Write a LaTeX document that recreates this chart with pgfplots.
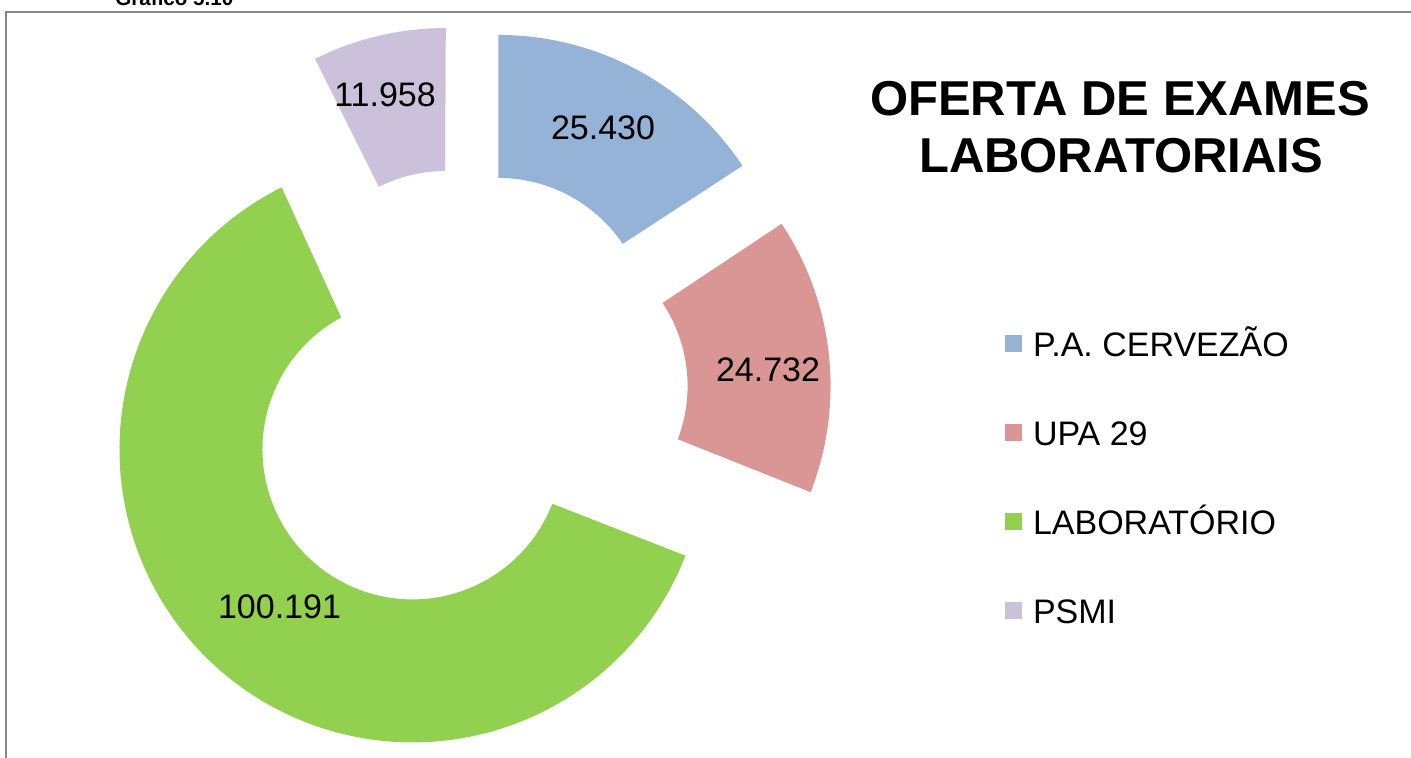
\documentclass[border=0pt]{standalone}
\usepackage{pgfplots}
\pgfplotsset{compat=1.18}
\usepackage{xfp}
\usepackage{fontspec}
\setmainfont{Liberation Sans}

\definecolor{cA}{RGB}{149,179,215}
\definecolor{cB}{RGB}{217,150,148}
\definecolor{cC}{RGB}{146,208,80}
\definecolor{cD}{RGB}{204,193,218}
\definecolor{frame}{RGB}{134,134,134}

% data: exames por unidade
\def\vA{25430}  % P.A. CERVEZAO
\def\vB{24732}  % UPA 29
\def\vC{100191} % LABORATORIO
\def\vD{11958}  % PSMI

\newcommand\seg[3]{% colour, start angle, end angle
  \edef\mm{\fpeval{round((#2+#3)/2,4)}}%
  \edef\cx{\fpeval{round(463+75*cosd(\mm),3)}}%
  \edef\cy{\fpeval{round(394-75*sind(\mm),3)}}%
  \edef\sspan{\fpeval{round((#3)-(#2),4)}}%
  \edef\doit{\noexpand\addplot[fill=#1, draw=none, domain=0:2, samples=241]
    ({\cx+(x<=1?293:150)*cos(#2+(x<=1?x:2-x)*(\sspan))},
     {\cy-(x<=1?293:150)*sin(#2+(x<=1?x:2-x)*(\sspan))});}%
  \doit
}

\begin{document}
\begin{tikzpicture}
\edef\tot{\fpeval{\vA+\vB+\vC+\vD}}
\edef\aA{90}
\edef\aB{\fpeval{round(90-360*\vA/\tot,4)}}
\edef\aC{\fpeval{round(\aB-360*\vB/\tot,4)}}
\edef\aD{\fpeval{round(\aC-360*\vC/\tot,4)}}
\edef\aE{\fpeval{round(\aD-360*\vD/\tot,4)}}
\begin{axis}[
  name=ax,
  width=705.5pt, height=378.5pt, scale only axis, hide axis,
  xmin=0, xmax=1411, ymin=0, ymax=757, y dir=reverse, clip=false,
  legend style={at={(axis cs:1005,331)}, anchor=north west, draw=none, fill=none,
    inner sep=0pt, outer sep=0pt, row sep=32pt,
    font=\fontsize{17}{20}\selectfont,
    nodes={inner sep=0pt, text height=12.5pt, text depth=0pt},
    /tikz/every odd column/.style={column sep=5.5pt}},
  legend cell align=left,
  legend image code/.code={\fill[#1] (0pt,-4.25pt) rectangle (8.5pt,4.25pt);},
]
\seg{cA}{\aA}{\aB}
\seg{cB}{\aB}{\aC}
\seg{cC}{\aC}{\aD}
\seg{cD}{\aD}{\aE}
\legend{P.A. CERVEZÃO, UPA 29, LABORATÓRIO, PSMI}

\begin{scope}[font=\fontsize{17}{20}\selectfont]
\node at (axis cs:603,128) {25.430};
\node at (axis cs:768,370) {24.732};
\node at (axis cs:279.5,606.5) {100.191};
\node at (axis cs:385,95) {11.958};
\end{scope}

\node[anchor=base, font=\bfseries\fontsize{24.5}{28.5}\selectfont] at (axis cs:1120,115) {OFERTA DE EXAMES};
\node[anchor=base, font=\bfseries\fontsize{24.5}{28.5}\selectfont] at (axis cs:1121,172) {LABORATORIAIS};

\draw[frame, line width=1pt] (axis cs:6,800) -- (axis cs:6,12) -- (axis cs:1450,12);
\node[anchor=base west, inner sep=0pt, font=\bfseries\fontsize{10.3}{12}\selectfont] at (axis cs:115,5) {Gráfico 5.10};
\end{axis}
\pgfresetboundingbox
\path[use as bounding box] (ax.south west) rectangle (ax.north east);
\end{tikzpicture}
\end{document}
